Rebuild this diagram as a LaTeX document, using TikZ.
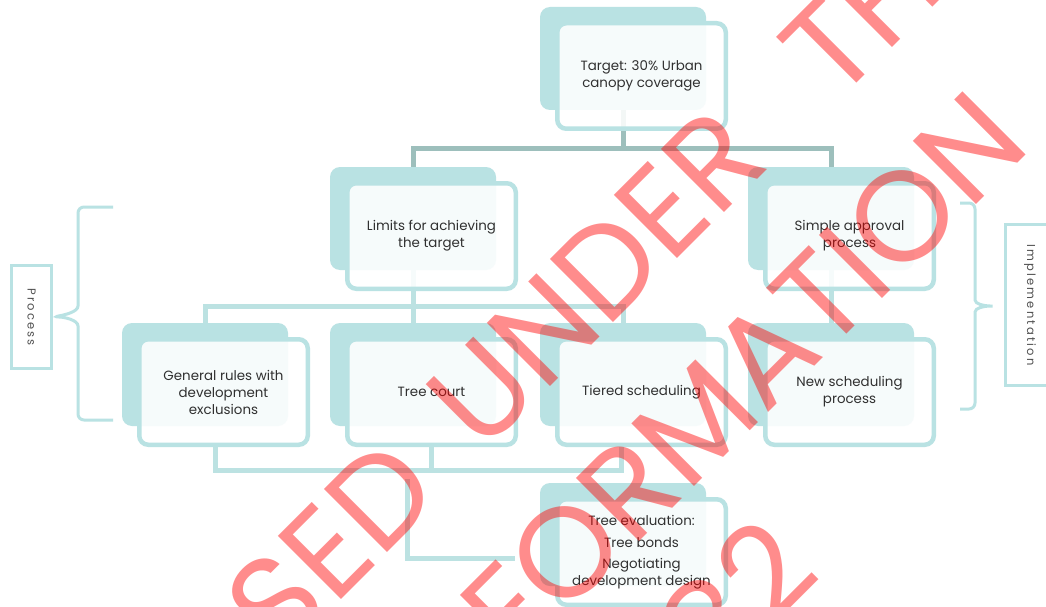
\documentclass[tikz,border=0pt]{standalone}
\usepackage{fontspec}
\setmainfont{Poppins}
\newfontfamily\wmfont{Poppins}
\usepackage{graphicx}
\definecolor{tealbk}{HTML}{B9E2E3}
\definecolor{tealbd}{HTML}{B9E2E3}
\definecolor{connA}{HTML}{9DBFBC}
\definecolor{connB}{HTML}{BCE2E2}
\definecolor{txt}{HTML}{303030}
\definecolor{lbltxt}{HTML}{505050}
\definecolor{wmred}{HTML}{FF0000}
\pgfdeclarelayer{bg}
\pgfsetlayers{bg,main}
\begin{document}
\begin{tikzpicture}[x=1pt,y=-1pt,
  backbox/.style={rectangle, rounded corners=10pt, fill=tealbk, minimum width=166pt, minimum height=103pt, inner sep=0pt},
  frontbox/.style={rectangle, rounded corners=9pt, draw=tealbd, line width=4.5pt, fill=white, fill opacity=0.88, text opacity=1, draw opacity=1, minimum width=168.5pt, minimum height=105.5pt, align=center, text=txt, font=\fontsize{13.4}{17}\selectfont, inner sep=0pt},
  connone/.style={draw=connA, line width=5pt},
  conntwo/.style={draw=connB, line width=5pt},
  bracepath/.style={draw=tealbd, line width=3pt, rounded corners=6pt},
  lblbox/.style={rectangle, draw=tealbd, line width=3pt, inner sep=0pt, text=lbltxt, font=\fontsize{11.5}{14}\selectfont},
  wm/.style={font=\wmfont\fontsize{128}{128}\selectfont, text=wmred, text opacity=0.45, rotate=45, inner sep=0pt}
]
\useasboundingbox (0,0) rectangle (1046,607);

% back shapes
\node[backbox] (tB) at (623,58.5) {};
\node[backbox] (lB) at (413,218.5) {};
\node[backbox] (sB) at (831,218.5) {};
\node[backbox] (gB) at (205,374.5) {};
\node[backbox] (cB) at (413,374.5) {};
\node[backbox] (rB) at (623,374.5) {};
\node[backbox] (nB) at (831,374.5) {};
\node[backbox] (eB) at (623,534.5) {};

% front boxes
\node[frontbox] (tF) at (641.5,76) {Target: 30\% Urban\\canopy coverage};
\node[frontbox] (lF) at (431.5,236) {Limits for achieving\\the target};
\node[frontbox] (sF) at (849.5,236) {Simple approval\\process};
\node[frontbox] (gF) at (223.5,392) {General rules with\\development\\exclusions};
\node[frontbox] (cF) at (431.5,392) {Tree court};
\node[frontbox] (rF) at (641.5,392) {Tiered scheduling};
\node[frontbox] (nF) at (849.5,392) {New scheduling\\process};
\node[frontbox] (eF) at (641.5,552) {Tree evaluation:\\[5pt]Tree bonds\\[4pt]Negotiating\\development design};

% connectors
\begin{pgfonlayer}{bg}
\fill[white] (0,0) rectangle (1046,607);
\draw[connone] (tB.south) -- ++(0,38) coordinate (tHub);
\draw[connone] (lB.north) |- (tHub) -| (sB.north);
\draw[conntwo] (lB.south) -- ++(0,36) coordinate (lHub);
\draw[conntwo] (gB.north) |- (lHub) -| (rB.north);
\draw[conntwo] (lHub) -- (cB.north);
\draw[conntwo] (sB.south) -- (nB.north);
\coordinate (bus) at (432,470);
\draw[conntwo] ([xshift=-8.5pt]gF.south) |- (bus) -| ([xshift=-20pt]rF.south);
\draw[conntwo] (cF.south) -- (cF.south |- bus);
\coordinate (eTop) at (407,479);
\coordinate (eIn) at (515,558);
\draw[conntwo] (eTop) |- (eIn);
\end{pgfonlayer}

% side labels and braces
\node[lblbox, minimum width=40pt, minimum height=103pt] (proc) at (31.5,317)
  {\rotatebox{-90}{P\kern2pt r\kern2pt o\kern2pt c\kern2pt e\kern2pt s\kern2pt s}};
\node[lblbox, minimum width=49pt, minimum height=161pt] (impl) at (1030,305)
  {\rotatebox{-90}{I\kern2.2pt m\kern2.2pt p\kern2.2pt l\kern2.2pt e\kern2.2pt m\kern2.2pt e\kern2.2pt n\kern2.2pt t\kern2.2pt a\kern2.2pt t\kern2.2pt i\kern2.2pt o\kern2.2pt n}};
\draw[bracepath] (113,207) -| (78,300) .. controls (78,312) and (64,315) .. (proc.east)
  .. controls (64,317) and (78,320) .. (78,332) |- (113,420);
\coordinate (rtip) at (996,306);
\draw[bracepath] (960,203) -| (975,294) .. controls (975,304) and (984,306) .. (rtip)
  .. controls (984,306) and (975,308) .. (975,318) |- (960,409);

% watermark
\begin{scope}
\clip (0,0) rectangle (1046,607);
\node[wm, anchor=east] (w1) at (413,464) {RELEASED};
\node[wm] (w2) at (596,278) {UNDER};
\node[wm] (w3) at (884,-7) {THE};
\node[wm] (w4) at (700,418) {INFORMATION};
\node[wm] (w5) at (1160,-42) {ACT};
\node[wm] (w6) at (694,642) {1982};
\end{scope}
\end{tikzpicture}
\end{document}
